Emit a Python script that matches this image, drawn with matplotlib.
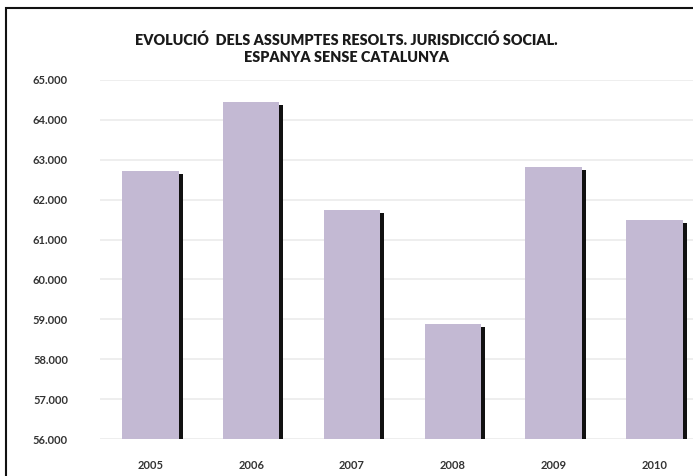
import matplotlib
matplotlib.use("Agg")
import matplotlib.pyplot as plt
from matplotlib.patches import Rectangle
from matplotlib.ticker import FuncFormatter, MultipleLocator

years = ["2005", "2006", "2007", "2008", "2009", "2010"]
values = [62725, 64450, 61750, 58890, 62810, 61500]
title_lines = ["EVOLUCIÓ  DELS ASSUMPTES RESOLTS. JURISDICCIÓ SOCIAL.",
               "ESPANYA SENSE CATALUNYA"]

plt.rcParams['font.family'] = ['Lato', 'DejaVu Sans']

W, H = 693, 476
fig = plt.figure(figsize=(W / 100, H / 100), dpi=100)
fig.patch.set_facecolor("white")

left_px, top_px, bot_px = 100, 80, 439
cat_w = 100.8
ax = fig.add_axes([left_px / W, (H - bot_px) / H, 6 * cat_w / W, (bot_px - top_px) / H])
ax.set_facecolor("white")

ymin, ymax = 56000, 65000
xs = list(range(len(years)))
bw = 0.56
dx = 4 / cat_w
dy = 3 * (ymax - ymin) / (bot_px - top_px)
ax.bar([x + dx for x in xs], [v - ymin - dy for v in values], bottom=ymin, width=bw,
       color="#111111", zorder=2)
ax.bar(xs, [v - ymin for v in values], bottom=ymin, width=bw, color="#c3b9d3", zorder=3)

ax.set_xlim(-0.5, 5.5)
ax.set_ylim(ymin, ymax)
ax.yaxis.set_major_locator(MultipleLocator(1000))
ax.yaxis.set_major_formatter(FuncFormatter(lambda v, p: f"{int(v):,}".replace(",", ".")))
ax.grid(axis="y", color="#ebebeb", lw=1.2, zorder=0)
ax.set_axisbelow(True)
for s in ax.spines.values():
    s.set_visible(False)
ax.set_xticks(xs)
ax.set_xticklabels(years)
ax.tick_params(axis="both", length=0, labelsize=8, labelcolor="#333333")
ax.tick_params(axis="x", pad=15)
ax.tick_params(axis="y", pad=(left_px - 68) * 0.72)
for lab in ax.get_yticklabels() + ax.get_xticklabels():
    lab.set_fontweight("bold")

fig.text(346 / W, 1 - 40 / H, title_lines[0], ha="center", va="center",
         fontsize=10.4, fontweight="heavy", color="#1a1a1a")
fig.text(347 / W, 1 - 58 / H, title_lines[1], ha="center", va="center",
         fontsize=10.4, fontweight="heavy", color="#1a1a1a")

fig.patches.append(Rectangle((6 / W, -0.1), 1.2, 1.1 - 8 / H, transform=fig.transFigure,
                             fill=False, edgecolor="#111111", lw=1.5))

fig.savefig("out.png", dpi=100)
